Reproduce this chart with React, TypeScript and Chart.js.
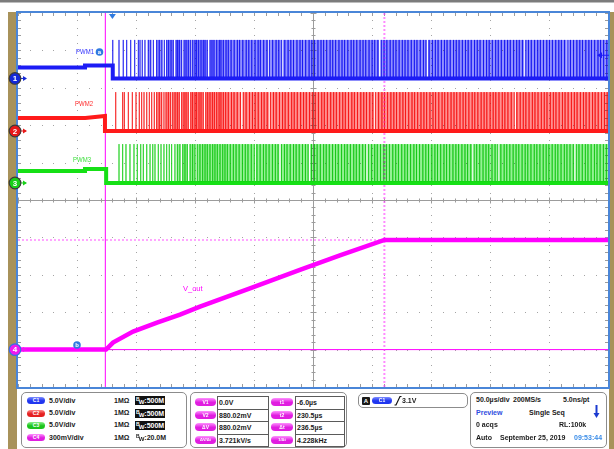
import React, { useEffect, useRef } from "react";
import { Chart, registerables } from "chart.js";

Chart.register(...registerables);

// ---- Canvas / plot geometry
const canvasW = 614;
const canvasH = 449;
const plotPad = { left: 18, top: 13, right: 6, bottom: 62 };

// ---- Timebase: 50 µs/div, 10 divisions, trigger point 80 µs after the left edge
const timeStart = -80;
const timePerDiv = 50;
const horizDivs = 10;
const vertDivs = 10;

// ---- Channel set-up (volts per division and ground offset in divisions from centre)
const channelNames = ["C1", "C2", "C3", "C4"];
const voltsPerDiv = [5, 5, 5, 0.3];
const groundOffsets = [3.25, 1.845, 0.455, -4.0];
const bandwidths = ["500M", "500M", "500M", "20.0M"];
const triggerLevel = 3.1; // volts on C1

// ---- Cursors (time in µs, voltage in mV on C4)
const cursorTimes = [-6.0, 230.5];
const cursorMv = [0, 880.02];

// ---- PWM1 (C1): idle trace before switching starts, then pulse edges and high bands
const pwm1IdleT = [-80, -23.2, -23.2, 0.3, 0.3, 420];
const pwm1IdleV = [1.47, 1.47, 1.73, 1.73, 0, 0];
const pwm1High = 5.15;
const pwm1Pulses = [
  0.3, 5.6, 9.2, 12.1, 15.5, 18.9, 22, 23.4, 25.3, 27.6, 30.4, 32.5, 34.7, 37.5, 39.7, 42, 44, 46, 47.7,
  49.7, 51.6, 53.9, 55.3, 56.7, 58.7, 60.7, 62.4, 64.3, 66.4, 68, 70, 71.4, 73.1, 75.1, 77, 78.5, 80.4,
  82.7, 84.4, 86.1, 88.4, 90.6, 92, 94, 96.3, 98.2, 100.6, 103.2, 105.9, 107.8, 110.5, 113.4, 115.6,
  118.1, 120.9, 123.5, 125.4, 128.2, 131, 133.1, 135.8, 138.7, 141, 143.4, 146.1, 148.9, 151.2, 153.5,
  156.4, 159, 161.1, 163.8, 166.7, 169, 171.3, 174.2, 176.8, 179, 181.6, 184.5, 186.7, 189.2, 192,
  194.6, 196.8, 199.5, 202.3, 204.5, 207.1, 209.9, 212.4, 214.7, 217.5, 220.1, 222.3, 225, 227.8,
  230.2, 232.6, 235.4, 238, 240.3, 243, 245.7, 248, 250.5, 253.3, 255.9, 258.1, 260.9, 263.6, 265.8,
  268.4, 271.2, 273.7, 276, 278.8, 281.4, 283.6, 286.3, 289.1, 291.4, 293.8, 296.6, 299.2, 301.5,
  304.1, 306.9, 309.2, 311.6, 314.5, 317.1, 319.3, 322, 324.8, 327, 329.6, 332.4, 334.9, 337.2, 340,
  342.6, 344.8, 347.5, 350.3, 352.6, 355, 357.8, 360.4, 362.7, 365.3, 368.1, 370.4, 372.9, 375.7,
  378.3, 380.5, 383.2, 386, 388.2, 390.8, 393.6, 396.1, 398.4, 401.2, 403.8, 406, 408.7, 411.5, 413.7,
  416.3, 419,
];
const pwm1Bands = [
  [30.4, 32.5], [37.5, 42], [46, 51.6], [53.9, 58.7], [60.7, 66.4], [68, 80.4], [82.7, 132],
  [133.5, 143], [144.5, 226], [227.5, 266], [267.5, 349], [350.5, 385], [386.5, 420],
];

// ---- PWM2 (C2)
const pwm2IdleT = [-80, -23, -6.3, -6.3, 420];
const pwm2IdleV = [1.74, 1.74, 2.0, 0, 0];
const pwm2High = 5.2;
const pwm2Pulses = [
  2.8, 8.7, 10.1, 13.5, 16.9, 20, 22.8, 24.8, 26.8, 29.1, 31.3, 33.3, 35.5, 37.5, 39.7, 41.8, 43.7,
  45.4, 47.4, 49.4, 51.1, 53.1, 55, 56.7, 58.7, 60.7, 62.4, 64.3, 66.4, 68, 70, 71.4, 73.4, 75.1, 77,
  79.1, 80.8, 82.7, 84.7, 86.4, 88.4, 90.4, 92, 94, 96, 98.2, 100.9, 103.1, 105.8, 108.6, 110.9, 113.3,
  116.2, 118.7, 121, 123.6, 126.4, 128.6, 131.2, 134, 136.5, 138.8, 141.6, 144.2, 146.4, 149.1, 151.9,
  154.1, 156.7, 159.5, 162, 164.3, 167.1, 169.7, 171.9, 174.6, 177.4, 179.6, 182.2, 185, 187.5, 189.8,
  192.6, 195.2, 197.4, 200.1, 202.9, 205.1, 207.7, 210.5, 213, 215.3, 218.1, 220.7, 222.9, 225.6,
  228.4, 230.6, 233.2, 236, 238.5, 240.8, 243.6, 246.2, 248.4, 251.1, 253.9, 256.1, 258.7, 261.5, 264,
  266.3, 269.1, 271.7, 273.9, 276.6, 279.4, 281.6, 284.2, 287, 289.5, 291.8, 294.6, 297.2, 299.4,
  302.1, 304.9, 307.1, 309.7, 312.5, 315, 317.3, 320.1, 322.7, 324.9, 327.6, 330.4, 332.6, 335.2, 338,
  340.5, 342.8, 345.6, 348.2, 350.4, 353.1, 355.9, 358.1, 360.7, 363.5, 366, 368.3, 371.1, 373.7,
  375.9, 378.6, 381.4, 383.6, 386.2, 389, 391.5, 393.8, 396.6, 399.2, 401.4, 404.1, 406.9, 409.1,
  411.7, 414.5, 417, 419.3,
];
const pwm2Bands = [
  [37.5, 41.8], [45.4, 49.4], [51.1, 56.7], [58.7, 64.3], [66.4, 77], [79.1, 108.6], [110.9, 133],
  [134.5, 221.5], [223.5, 340], [342, 420],
];

// ---- PWM3 (C3)
const pwm3IdleT = [-80, -23.2, -23.2, -5.3, -5.3, 420];
const pwm3IdleV = [1.6, 1.6, 1.87, 1.87, 0, 0];
const pwm3High = 5.2;
const pwm3Pulses = [
  5.6, 8.7, 11.5, 14.9, 18.3, 21.1, 24, 26.2, 29.1, 31.9, 34.2, 36.1, 38.9, 41.2, 43.7, 46, 48.2, 50.2,
  53, 55, 57.3, 59.6, 61.5, 63.5, 65.8, 68, 70, 71.9, 74.2, 76.5, 78.5, 80.4, 82.7, 85, 86.9, 88.9,
  91.2, 93.5, 95.4, 97.4, 99.9, 102.5, 104.8, 107.4, 110.2, 112.6, 114.9, 117.7, 120.3, 122.5, 125.2,
  128, 130.2, 132.8, 135.6, 138.1, 140.4, 143.2, 145.8, 148, 150.7, 153.5, 155.7, 158.3, 161.1, 163.6,
  165.9, 168.7, 171.3, 173.5, 176.2, 179, 181.2, 183.8, 186.6, 189.1, 191.4, 194.2, 196.8, 199, 201.7,
  204.5, 206.7, 209.3, 212.1, 214.6, 216.9, 219.7, 222.3, 224.5, 227.2, 230, 232.2, 234.8, 237.6,
  240.1, 242.4, 245.2, 247.8, 250, 252.7, 255.5, 257.7, 260.3, 263.1, 265.6, 267.9, 270.7, 273.3,
  275.5, 278.2, 281, 283.2, 285.8, 288.6, 291.1, 293.4, 296.2, 298.8, 301, 303.7, 306.5, 308.7, 311.3,
  314.1, 316.6, 318.9, 321.7, 324.3, 326.5, 329.2, 332, 334.2, 336.8, 339.6, 342.1, 344.4, 347.2,
  349.8, 352, 354.7, 357.5, 359.7, 362.3, 365.1, 367.6, 369.9, 372.7, 375.3, 377.5, 380.2, 383, 385.2,
  387.8, 390.6, 393.1, 395.4, 398.2, 400.8, 403, 405.7, 408.5, 410.7, 413.3, 416.1, 418.6,
];
const pwm3Bands = [
  [55, 57.3], [59.6, 63.5], [65.8, 70], [71.9, 120], [121.5, 141.5], [143, 166], [167.5, 215],
  [216.8, 305], [306.5, 326], [327.8, 391.5], [393, 420],
];

// ---- V_out (C4), mV
const voutT = [-80, -5.4, 0.5, 17.5, 37.8, 57.3, 74.2, 116.6, 158.9, 192.8, 230.5, 420];
const voutMv = [0, 0, 56, 144, 216, 280, 344, 492, 640, 755, 880, 880];

// ---- Colours
const traceColors = ["#1c1cf5", "#ff1a1a", "#16e016", "#ff00ff"];
const edgeColors = ["rgba(20,20,240,0.7)", "rgba(245,20,20,0.7)", "rgba(20,205,20,0.7)"];
const bandColors = ["#9090ff", "#ff9090", "#94f294"];
const tan = "#a8925a";
const frameBlue = "#4a86d8";

const timeEnd = timeStart + horizDivs * timePerDiv;
const toDiv = (ch: number, volts: number) => groundOffsets[ch] + volts / voltsPerDiv[ch];

// high-level envelopes per PWM channel: [channel, bands, high level]
const pwmEnvelopes: [number, number[][], number][] = [
  [0, pwm1Bands, pwm1High],
  [1, pwm2Bands, pwm2High],
  [2, pwm3Bands, pwm3High],
];

const tracePoints = (ch: number, ts: number[], vs: number[]) =>
  ts.map((t, i) => ({ x: t, y: toDiv(ch, vs[i]) }));

const pulsePoints = (ch: number, ts: number[], high: number) =>
  ts.flatMap((t) => [
    { x: t, y: toDiv(ch, 0) },
    { x: t, y: toDiv(ch, high) },
    { x: t, y: toDiv(ch, 0) },
  ]);

const lineSet = (data: any[], color: string, width: number, order: number, extra: any = {}) => ({
  data,
  borderColor: color,
  borderWidth: width,
  pointRadius: 0,
  fill: false,
  tension: 0,
  order,
  ...extra,
});

const fmt = (v: number, d: number) => v.toFixed(d);

const scopePlugin = {
  id: "scopeDecor",
  beforeDraw(chart: any) {
    const { ctx, width, height } = chart;
    ctx.save();
    ctx.fillStyle = "#ffffff";
    ctx.fillRect(0, 0, width, height);
    ctx.fillStyle = "#7c7c7c";
    ctx.fillRect(0, 0, width, 2.5);
    ctx.fillStyle = tan;
    ctx.fillRect(8, 12, 9, height - 12);
    ctx.fillRect(609, 12, 5, height - 12);
    ctx.restore();
  },
  beforeDatasetsDraw(chart: any) {
    const { ctx, chartArea: a, scales } = chart;
    const xs = scales.x;
    const ys = scales.y;
    ctx.save();
    // dotted division grid
    ctx.fillStyle = "#a4a4a4";
    for (let i = 1; i < horizDivs; i++) {
      const px = Math.round(xs.getPixelForValue(timeStart + i * timePerDiv));
      for (let k = 0; k <= vertDivs * 5; k++) {
        const py = Math.round(ys.getPixelForValue(-vertDivs / 2 + k / 5));
        ctx.fillRect(px, py, 1, 1);
      }
    }
    for (let j = 1; j < vertDivs; j++) {
      const py = Math.round(ys.getPixelForValue(-vertDivs / 2 + j));
      for (let k = 0; k <= horizDivs * 5; k++) {
        const px = Math.round(xs.getPixelForValue(timeStart + (k / 5) * timePerDiv));
        ctx.fillRect(px, py, 1, 1);
      }
    }
    // centre axes with minor ticks
    const cx = Math.round(xs.getPixelForValue(timeStart + (horizDivs / 2) * timePerDiv)) + 0.5;
    const cy = Math.round(ys.getPixelForValue(0)) + 0.5;
    ctx.strokeStyle = "#9c9c9c";
    ctx.lineWidth = 1;
    ctx.beginPath();
    ctx.moveTo(cx, a.top);
    ctx.lineTo(cx, a.bottom);
    ctx.moveTo(a.left, cy);
    ctx.lineTo(a.right, cy);
    for (let k = 0; k <= horizDivs * 5; k++) {
      const px = Math.round(xs.getPixelForValue(timeStart + (k / 5) * timePerDiv)) + 0.5;
      const len = k % 5 === 0 ? 3 : 2;
      ctx.moveTo(px, cy - len);
      ctx.lineTo(px, cy + len);
      ctx.moveTo(px, a.top);
      ctx.lineTo(px, a.top + 3);
      ctx.moveTo(px, a.bottom);
      ctx.lineTo(px, a.bottom - 3);
    }
    for (let k = 0; k <= vertDivs * 5; k++) {
      const py = Math.round(ys.getPixelForValue(-vertDivs / 2 + k / 5)) + 0.5;
      const len = k % 5 === 0 ? 3 : 2;
      ctx.moveTo(cx - len, py);
      ctx.lineTo(cx + len, py);
      ctx.moveTo(a.left, py);
      ctx.lineTo(a.left + 3, py);
      ctx.moveTo(a.right, py);
      ctx.lineTo(a.right - 3, py);
    }
    ctx.stroke();
    ctx.restore();
  },
  afterDatasetsDraw(chart: any) {
    const { ctx, chartArea: a, scales } = chart;
    const xs = scales.x;
    const ys = scales.y;

    // PWM high-level envelopes, multiplied over the traces so the edges stay visible
    ctx.save();
    ctx.beginPath();
    ctx.rect(a.left, a.top, a.right - a.left, a.bottom - a.top);
    ctx.clip();
    ctx.globalCompositeOperation = "multiply";
    for (const [ch, bands, high] of pwmEnvelopes) {
      ctx.fillStyle = bandColors[ch];
      const yLo = ys.getPixelForValue(toDiv(ch, 0));
      const yHi = ys.getPixelForValue(toDiv(ch, high));
      for (const [s, e] of bands) {
        const x0 = xs.getPixelForValue(s);
        const x1 = xs.getPixelForValue(e);
        ctx.fillRect(x0, yHi, x1 - x0, yLo - 1.5 - yHi);
      }
    }
    ctx.restore();

    ctx.save();
    // frame
    ctx.strokeStyle = frameBlue;
    ctx.lineWidth = 2;
    ctx.strokeRect(a.left - 1, a.top - 1, a.right - a.left + 2, a.bottom - a.top + 2);

    // trigger position marker
    const tx = xs.getPixelForValue(0);
    ctx.fillStyle = "#2f7ae0";
    ctx.beginPath();
    ctx.moveTo(tx - 3.5, a.top + 1);
    ctx.lineTo(tx + 3.5, a.top + 1);
    ctx.lineTo(tx, a.top + 6);
    ctx.closePath();
    ctx.fill();

    // trigger level marker on the right edge
    const ty = ys.getPixelForValue(toDiv(0, triggerLevel));
    ctx.strokeStyle = traceColors[0];
    ctx.fillStyle = traceColors[0];
    ctx.lineWidth = 1;
    ctx.beginPath();
    ctx.moveTo(a.right - 10, ty);
    ctx.lineTo(a.right + 1, ty);
    ctx.stroke();
    ctx.beginPath();
    ctx.moveTo(a.right - 11, ty);
    ctx.lineTo(a.right - 6, ty - 3);
    ctx.lineTo(a.right - 6, ty + 3);
    ctx.closePath();
    ctx.fill();

    // channel ground markers
    const markerFill = ["#1428d8", "#e81818", "#18d018", "#f018f0"];
    for (let ch = 0; ch < 4; ch++) {
      const py = ys.getPixelForValue(groundOffsets[ch]);
      ctx.strokeStyle = markerFill[ch];
      ctx.fillStyle = markerFill[ch];
      ctx.lineWidth = 1;
      ctx.beginPath();
      ctx.moveTo(20, py);
      ctx.lineTo(26, py);
      ctx.stroke();
      ctx.beginPath();
      ctx.moveTo(27, py);
      ctx.lineTo(23, py - 2.5);
      ctx.lineTo(23, py + 2.5);
      ctx.closePath();
      ctx.fill();
      ctx.beginPath();
      ctx.arc(15, py, 5.8, 0, Math.PI * 2);
      ctx.fill();
      ctx.lineWidth = 1.2;
      ctx.strokeStyle = ch === 3 ? "#3a6fe0" : "#3a3a3a";
      ctx.stroke();
      ctx.fillStyle = "#ffffff";
      ctx.font = 'bold 8px "Liberation Sans", Arial, sans-serif';
      ctx.textAlign = "center";
      ctx.textBaseline = "middle";
      ctx.fillText(String(ch + 1), 15, py + 0.5);
    }

    // trace labels (condensed to the width they occupy on screen)
    ctx.font = '7.5px "Liberation Sans", Arial, sans-serif';
    ctx.textAlign = "left";
    ctx.textBaseline = "middle";
    ctx.fillStyle = "#3030ff";
    ctx.fillText("PWM1", 76, 52, 18);
    ctx.fillStyle = "#ff2a2a";
    ctx.fillText("PWM2", 75, 104, 18);
    ctx.fillStyle = "#3ade3a";
    ctx.fillText("PWM3", 73, 160, 18);
    ctx.fillStyle = "#ff00ff";
    ctx.fillText("V_out", 183, 289, 24);

    // waveform reference tags
    const tag = (x: number, y: number, s: string) => {
      ctx.fillStyle = "#2f7ae0";
      ctx.beginPath();
      ctx.arc(x, y, 3.8, 0, Math.PI * 2);
      ctx.fill();
      ctx.fillStyle = "#ffffff";
      ctx.font = 'bold 6px "Liberation Sans", Arial, sans-serif';
      ctx.textAlign = "center";
      ctx.fillText(s, x, y + 0.3);
    };
    tag(99.5, 52, "a");
    tag(77, 345, "b");
    ctx.restore();
  },
};

const Txt = ({ x, y, children, color = "#1a1a1a", size = 7, weight = 700 }: any) => (
  <div
    style={{
      position: "absolute",
      left: x,
      top: y - 5,
      fontSize: size,
      lineHeight: "10px",
      fontWeight: weight,
      color,
      whiteSpace: "nowrap",
    }}
  >
    {children}
  </div>
);

const Pill = ({ x, y, w, h = 7, color, light, label, size = 5 }: any) => (
  <div
    style={{
      position: "absolute",
      left: x,
      top: y - h / 2,
      width: w,
      height: h,
      borderRadius: h / 2,
      background: `linear-gradient(${light}, ${color} 55%, ${color})`,
      color: "#ffffff",
      fontSize: size,
      lineHeight: `${h}px`,
      textAlign: "center",
      fontWeight: 700,
      overflow: "hidden",
      whiteSpace: "nowrap",
    }}
  >
    {label}
  </div>
);

const Box = ({ x, y, w, h }: any) => (
  <div
    style={{
      position: "absolute",
      left: x,
      top: y,
      width: w,
      height: h,
      border: "1px solid #8c8c8c",
      borderRadius: 5,
      boxSizing: "border-box",
      background: "#ffffff",
    }}
  />
);

const Cell = ({ x, y, w, h, children }: any) => (
  <div
    style={{
      position: "absolute",
      left: x,
      top: y,
      width: w,
      height: h,
      border: "1px solid #5a5a5a",
      boxSizing: "border-box",
      fontSize: 7,
      fontWeight: 700,
      lineHeight: `${h - 2}px`,
      paddingLeft: 1,
      color: "#1a1a1a",
      whiteSpace: "nowrap",
      background: "#ffffff",
    }}
  >
    {children}
  </div>
);

const pillColors = [
  ["#2036f0", "#7d8cff"],
  ["#e42020", "#ff8a8a"],
  ["#1cc41c", "#8cf08c"],
  ["#e01ee0", "#ff90ff"],
];

export default function App() {
  const canvasRef = useRef<HTMLCanvasElement>(null);

  useEffect(() => {
    document.body.style.margin = "0";
    const datasets: any[] = [
      // V_out on top
      lineSet(tracePoints(3, voutT, voutMv.map((m) => m / 1000)), traceColors[3], 4.5, 1),
      // PWM idle / low traces
      lineSet(tracePoints(0, pwm1IdleT, pwm1IdleV), traceColors[0], 4, 2),
      lineSet(tracePoints(1, pwm2IdleT, pwm2IdleV), traceColors[1], 4, 3),
      lineSet(tracePoints(2, pwm3IdleT, pwm3IdleV), traceColors[2], 4, 4),
      // cursor lines
      lineSet(
        [
          { x: cursorTimes[1], y: -vertDivs / 2 },
          { x: cursorTimes[1], y: vertDivs / 2 },
        ],
        "rgba(255,60,255,0.6)",
        2,
        5,
        { borderDash: [2, 2] }
      ),
      lineSet(
        [
          { x: timeStart, y: toDiv(3, cursorMv[1] / 1000) },
          { x: timeEnd, y: toDiv(3, cursorMv[1] / 1000) },
        ],
        "rgba(255,60,255,0.6)",
        1.5,
        6,
        { borderDash: [2, 2] }
      ),
      // PWM switching edges
      lineSet(pulsePoints(0, pwm1Pulses, pwm1High), edgeColors[0], 1, 7),
      lineSet(pulsePoints(1, pwm2Pulses, pwm2High), edgeColors[1], 1, 8),
      lineSet(pulsePoints(2, pwm3Pulses, pwm3High), edgeColors[2], 1, 9),
      // solid cursors
      lineSet(
        [
          { x: cursorTimes[0], y: -vertDivs / 2 },
          { x: cursorTimes[0], y: vertDivs / 2 },
        ],
        "#ff00ff",
        1,
        13
      ),
      lineSet(
        [
          { x: timeStart, y: toDiv(3, cursorMv[0] / 1000) },
          { x: timeEnd, y: toDiv(3, cursorMv[0] / 1000) },
        ],
        "#ff00ff",
        1,
        14
      ),
    ];

    const chart = new Chart(canvasRef.current as HTMLCanvasElement, {
      type: "line",
      data: { datasets },
      options: {
        animation: false,
        responsive: false,
        devicePixelRatio: 1,
        events: [],
        layout: { padding: plotPad },
        plugins: { legend: { display: false }, tooltip: { enabled: false } },
        scales: {
          x: { type: "linear", display: false, min: timeStart, max: timeEnd },
          y: { type: "linear", display: false, min: -vertDivs / 2, max: vertDivs / 2 },
        },
      },
      plugins: [scopePlugin],
    } as any);
    return () => chart.destroy();
  }, []);

  const dt = cursorTimes[1] - cursorTimes[0];
  const dv = cursorMv[1] - cursorMv[0];
  const cursorLeft = [
    ["V1", `${fmt(cursorMv[0] / 1000, 1)}V`],
    ["V2", `${fmt(cursorMv[1], 2)}mV`],
    ["ΔV", `${fmt(dv, 2)}mV`],
    ["ΔV/Δt", `${fmt(dv / dt, 3)}kV/s`],
  ];
  const cursorRight = [
    ["t1", `${fmt(cursorTimes[0], 1)}µs`],
    ["t2", `${fmt(cursorTimes[1], 1)}µs`],
    ["Δt", `${fmt(dt, 1)}µs`],
    ["1/Δt", `${fmt(1000 / dt, 3)}kHz`],
  ];
  const chRows = [400.7, 413, 425.3, 437.7];
  const cellTops = [396, 408.5, 421, 433.5];

  const vdivText = (v: number) => (v >= 1 ? `${fmt(v, 1)}V/div` : `${Math.round(v * 1000)}mV/div`);

  return (
    <div
      style={{
        position: "relative",
        width: canvasW,
        height: canvasH,
        overflow: "hidden",
        fontFamily: '"Liberation Sans", Arial, sans-serif',
      }}
    >
      <canvas
        ref={canvasRef}
        width={canvasW}
        height={canvasH}
        style={{ position: "absolute", left: 0, top: 0, width: canvasW, height: canvasH }}
      />

      {/* channel settings */}
      <Box x={21} y={392} w={166} h={56} />
      {channelNames.map((name, i) => (
        <React.Fragment key={name}>
          <Pill x={27} y={chRows[i]} w={18} color={pillColors[i][0]} light={pillColors[i][1]} label={name} />
          <Txt x={49} y={chRows[i]}>{vdivText(voltsPerDiv[i])}</Txt>
          <Txt x={114} y={chRows[i]}>1MΩ</Txt>
          <div
            style={{
              position: "absolute",
              left: 135,
              top: chRows[i] - 4.5,
              height: 9,
              padding: "0 1px",
              background: i < 3 ? "#111111" : "transparent",
              color: i < 3 ? "#ffffff" : "#1a1a1a",
              fontSize: 7,
              fontWeight: 700,
              lineHeight: "9px",
              whiteSpace: "nowrap",
            }}
          >
            <span style={{ fontSize: 5, position: "relative", top: -2 }}>B</span>
            <span style={{ fontSize: 6, position: "relative", top: 1, marginLeft: -1 }}>W</span>:{bandwidths[i]}
          </div>
        </React.Fragment>
      ))}

      {/* cursor readouts */}
      <Box x={190} y={392} w={157} h={56} />
      {cursorLeft.map(([k, v], i) => (
        <React.Fragment key={k}>
          <Pill x={195} y={cellTops[i] + 6.2} w={21} h={8} color={pillColors[3][0]} light={pillColors[3][1]} label={k} size={k.length > 3 ? 4 : 5} />
          <Cell x={217} y={cellTops[i]} w={52} h={13.5}>{v}</Cell>
        </React.Fragment>
      ))}
      {cursorRight.map(([k, v], i) => (
        <React.Fragment key={k}>
          <Pill x={271} y={cellTops[i] + 6.2} w={22} h={8} color={pillColors[3][0]} light={pillColors[3][1]} label={k} size={k.length > 3 ? 4 : 5} />
          <Cell x={295} y={cellTops[i]} w={50} h={13.5}>{v}</Cell>
        </React.Fragment>
      ))}

      {/* trigger */}
      <Box x={358} y={393} w={110} h={15} />
      <div
        style={{
          position: "absolute",
          left: 362,
          top: 396.5,
          width: 8,
          height: 8,
          background: "#1a1a1a",
          color: "#ffffff",
          fontSize: 6,
          fontWeight: 700,
          lineHeight: "8px",
          textAlign: "center",
          borderRadius: 1,
        }}
      >
        A
      </div>
      <Pill x={372} y={400.5} w={20} color={pillColors[0][0]} light={pillColors[0][1]} label="C1" />
      <svg style={{ position: "absolute", left: 394, top: 395 }} width={8} height={11}>
        <path d="M0.5 10 H2 L6 1.5 H7.5" stroke="#111" strokeWidth={1.2} fill="none" />
      </svg>
      <Txt x={402} y={400.5}>{`${fmt(triggerLevel, 1)}V`}</Txt>

      {/* acquisition */}
      <Box x={470} y={392} w={137} h={56} />
      <Txt x={476} y={400}>50.0µs/div</Txt>
      <Txt x={513} y={400}>200MS/s</Txt>
      <Txt x={563} y={400}>5.0ns/pt</Txt>
      <Txt x={476} y={412.5} color="#2d4de0">Preview</Txt>
      <Txt x={529} y={412.5}>Single Seq</Txt>
      <svg style={{ position: "absolute", left: 593, top: 405 }} width={7} height={14}>
        <line x1={3.5} y1={0} x2={3.5} y2={9} stroke="#1b3ad0" strokeWidth={2} />
        <path d="M0.5 8 H6.5 L3.5 13 Z" fill="#1b3ad0" />
      </svg>
      <Txt x={476} y={425}>0 acqs</Txt>
      <Txt x={559} y={425}>RL:100k</Txt>
      <Txt x={476} y={437.5}>Auto</Txt>
      <Txt x={500} y={437.5}>September 25, 2019</Txt>
      <Txt x={574} y={437.5} color="#3b8de8">09:53:44</Txt>
    </div>
  );
}
